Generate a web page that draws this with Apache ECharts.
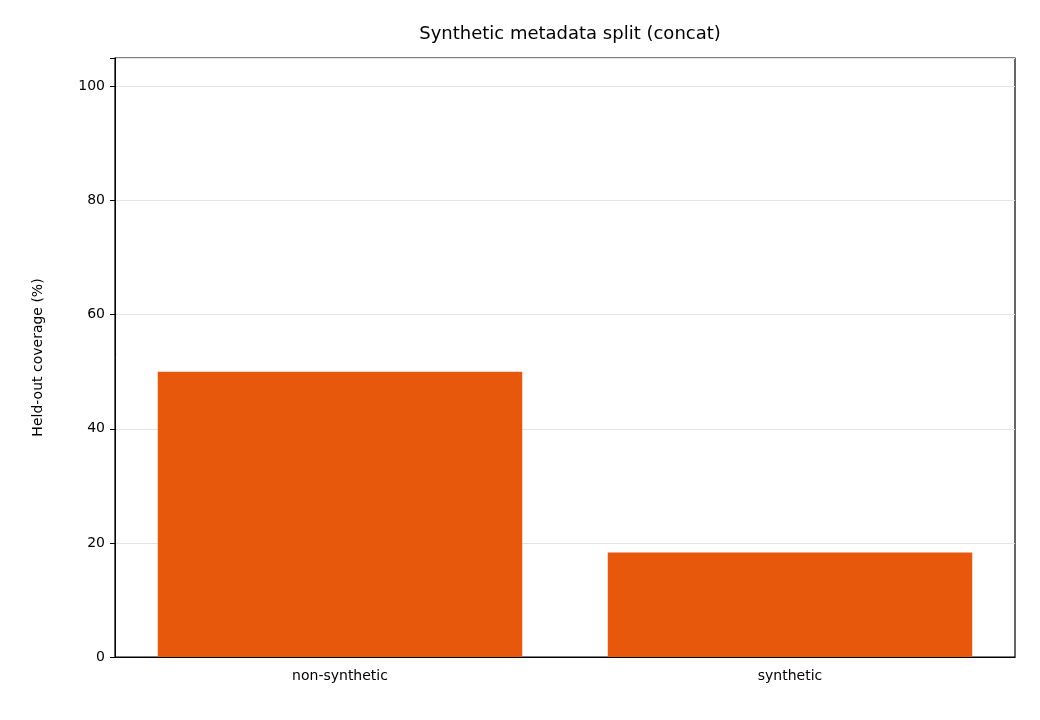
<!DOCTYPE html>
<html><head><meta charset="utf-8">
<script src="https://cdn.jsdelivr.net/npm/echarts@6/dist/echarts.min.js"></script>
<style>html,body{margin:0;padding:0;background:#fff}#c{width:1040px;height:720px}</style>
</head><body><div id="c"></div>
<script>
const categories = ['non-synthetic', 'synthetic'];
const coverage = [50.0, 18.3];
const yTicks = [0, 20, 40, 60, 80, 100];

const chart = echarts.init(document.getElementById('c'));
const font = 'DejaVu Sans';
chart.setOption({
  animation: false,
  title: { text: 'Synthetic metadata split (concat)', left: 565, top: 20, textAlign: 'center',
    textStyle: { fontFamily: font, fontSize: 18, fontWeight: 'normal', color: '#000' } },
  grid: { left: 115, right: 25, top: 58, bottom: 63, show: true, borderColor: '#000', borderWidth: 1.2 },
  xAxis: { type: 'category', data: categories,
    axisLine: { lineStyle: { color: '#000' } },
    axisTick: { alignWithLabel: true, length: 5, lineStyle: { color: '#000' } },
    axisLabel: { fontFamily: font, fontSize: 14, color: '#000', margin: 12 } },
  yAxis: { type: 'value', min: 0, max: 105, interval: 20,
    name: 'Held-out coverage (%)', nameLocation: 'middle', nameGap: 70,
    nameTextStyle: { fontFamily: font, fontSize: 14, color: '#000' },
    axisLine: { show: true, lineStyle: { color: '#000' } },
    axisTick: { show: true, length: 5, lineStyle: { color: '#000' } },
    axisLabel: { fontFamily: font, fontSize: 14, color: '#000', margin: 10,
      formatter: v => yTicks.includes(v) ? String(v) : '' },
    splitLine: { lineStyle: { color: '#e3e3e3' } } },
  series: [{ type: 'bar', data: coverage, barWidth: '81%',
    itemStyle: { color: '#e8580c' } }]
});
</script></body></html>
